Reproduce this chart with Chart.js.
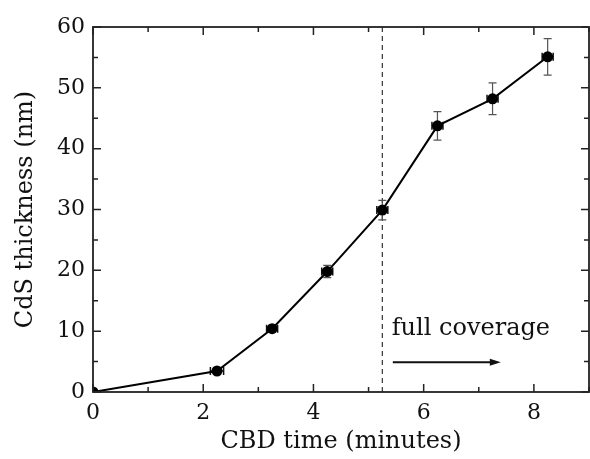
<!DOCTYPE html>
<html>
<head>
<meta charset="utf-8">
<script src="https://cdn.jsdelivr.net/npm/chart.js@4.4.0/dist/chart.umd.min.js"></script>
<style>
  html, body { margin: 0; padding: 0; background: #fff; }
  #wrap { width: 590px; height: 459px; }
</style>
</head>
<body>
<div id="wrap"><canvas id="myChart" width="590" height="459"></canvas></div>
<script>
// CBD time (minutes) vs CdS thickness (nm)
var times = [0, 2.25, 3.25, 4.25, 5.25, 6.25, 7.25, 8.25];
var thickness = [0, 3.45, 10.4, 19.8, 29.9, 43.75, 48.2, 55.1];
var thickErr = [0, 0.5, 0.5, 1.0, 1.6, 2.35, 2.6, 3.0];
var timeErr = [0, 0.12, 0.1, 0.1, 0.1, 0.1, 0.1, 0.1];
var xTickVals = [0, 2, 4, 6, 8];
var yTickVals = [0, 10, 20, 30, 40, 50, 60];
var coverageTime = 5.25;
var noteText = 'full coverage';

var FONT = '"DejaVu Serif", serif';
var TICKSIZE = 22;
var TITLESIZE = 24;

var points = [];
for (var i = 0; i < times.length; i++) {
  points.push({ x: times[i], y: thickness[i] });
}

// inward ticks, frame, error bars, dashed line and the note
var extras = {
  id: 'extras',
  beforeDatasetsDraw: function(chart) {
    var ctx = chart.ctx, xs = chart.scales.x, ys = chart.scales.y;
    var a = chart.chartArea;
    ctx.save();
    // dashed line
    ctx.strokeStyle = '#333';
    ctx.lineWidth = 1.2;
    ctx.setLineDash([5, 4]);
    var dx = xs.getPixelForValue(coverageTime);
    ctx.beginPath();
    ctx.moveTo(dx, a.top);
    ctx.lineTo(dx, a.bottom);
    ctx.stroke();
    ctx.setLineDash([]);
    // error bars
    for (var i = 0; i < times.length; i++) {
      var px = xs.getPixelForValue(times[i]);
      var py = ys.getPixelForValue(thickness[i]);
      if (thickErr[i] > 0) {
        var t = ys.getPixelForValue(thickness[i] + thickErr[i]);
        var b = ys.getPixelForValue(thickness[i] - thickErr[i]);
        ctx.strokeStyle = '#555';
        ctx.lineWidth = 1.2;
        ctx.beginPath();
        ctx.moveTo(px, t); ctx.lineTo(px, b);
        ctx.moveTo(px - 4, t); ctx.lineTo(px + 4, t);
        ctx.moveTo(px - 4, b); ctx.lineTo(px + 4, b);
        ctx.stroke();
      }
      if (timeErr[i] > 0) {
        var l = xs.getPixelForValue(times[i] - timeErr[i]);
        var r = xs.getPixelForValue(times[i] + timeErr[i]);
        ctx.strokeStyle = '#111';
        ctx.lineWidth = 1.5;
        ctx.beginPath();
        ctx.moveTo(l, py); ctx.lineTo(r, py);
        ctx.moveTo(l, py - 4); ctx.lineTo(l, py + 4);
        ctx.moveTo(r, py - 4); ctx.lineTo(r, py + 4);
        ctx.stroke();
      }
    }
    ctx.restore();
  },
  afterDraw: function(chart) {
    var ctx = chart.ctx, xs = chart.scales.x, ys = chart.scales.y;
    var a = chart.chartArea;
    ctx.save();
    ctx.strokeStyle = '#222';
    ctx.lineWidth = 1.8;
    ctx.strokeRect(a.left, a.top, a.right - a.left, a.bottom - a.top);
    ctx.lineWidth = 1.5;
    ctx.beginPath();
    for (var v = 0; v <= 9; v++) {
      var x = xs.getPixelForValue(v);
      var len = (v % 2 === 0) ? 8 : 5;
      ctx.moveTo(x, a.bottom); ctx.lineTo(x, a.bottom - len);
      ctx.moveTo(x, a.top); ctx.lineTo(x, a.top + len);
    }
    for (var w = 0; w <= 60; w += 5) {
      var y = ys.getPixelForValue(w);
      var len2 = (w % 10 === 0) ? 8 : 5;
      ctx.moveTo(a.left, y); ctx.lineTo(a.left + len2, y);
      ctx.moveTo(a.right, y); ctx.lineTo(a.right - len2, y);
    }
    ctx.stroke();

    // note and arrow
    ctx.fillStyle = '#111';
    ctx.font = TITLESIZE + 'px ' + FONT;
    ctx.textBaseline = 'alphabetic';
    ctx.textAlign = 'left';
    ctx.fillText(noteText, xs.getPixelForValue(5.42), ys.getPixelForValue(9.3));
    var ax0 = xs.getPixelForValue(5.44), ax1 = xs.getPixelForValue(7.4);
    var ay = ys.getPixelForValue(4.9);
    ctx.strokeStyle = '#111';
    ctx.lineWidth = 2;
    ctx.beginPath();
    ctx.moveTo(ax0, ay); ctx.lineTo(ax1 - 8, ay);
    ctx.stroke();
    ctx.beginPath();
    ctx.moveTo(ax1, ay);
    ctx.lineTo(ax1 - 11, ay - 3.5);
    ctx.lineTo(ax1 - 11, ay + 3.5);
    ctx.closePath();
    ctx.fill();
    ctx.restore();
  }
};

new Chart(document.getElementById('myChart'), {
  type: 'scatter',
  data: {
    datasets: [{
      data: points,
      showLine: true,
      borderColor: '#000',
      borderWidth: 2,
      backgroundColor: '#000',
      pointRadius: 5.5,
      pointBorderWidth: 0,
      tension: 0
    }]
  },
  options: {
    responsive: false,
    animation: false,
    layout: { autoPadding: false, padding: { top: 27, right: 1, left: 0, bottom: 0 } },
    plugins: { legend: { display: false }, tooltip: { enabled: false } },
    scales: {
      x: {
        type: 'linear',
        min: 0, max: 9,
        afterBuildTicks: function(s) { s.ticks = xTickVals.map(function(v) { return { value: v }; }); },
        afterFit: function(s) { s.height = 67; s.paddingRight = 0; s.paddingLeft = 0; },
        grid: { display: false, drawTicks: false },
        border: { display: false },
        ticks: { color: '#111', font: { family: FONT, size: TICKSIZE }, padding: 8, maxRotation: 0 },
        title: { display: true, text: 'CBD time (minutes)', color: '#111', font: { family: FONT, size: TITLESIZE }, padding: { top: 0, bottom: 3 } }
      },
      y: {
        type: 'linear',
        min: 0, max: 60,
        afterBuildTicks: function(s) { s.ticks = yTickVals.map(function(v) { return { value: v }; }); },
        afterFit: function(s) { s.width = 93; s.paddingTop = 0; s.paddingBottom = 0; },
        grid: { display: false, drawTicks: false },
        border: { display: false },
        ticks: { color: '#111', font: { family: FONT, size: TICKSIZE }, padding: 8 },
        title: { display: true, text: 'CdS thickness (nm)', color: '#111', font: { family: FONT, size: TITLESIZE }, padding: { top: 11, bottom: 0 } }
      }
    }
  },
  plugins: [extras]
});
</script>
</body>
</html>
